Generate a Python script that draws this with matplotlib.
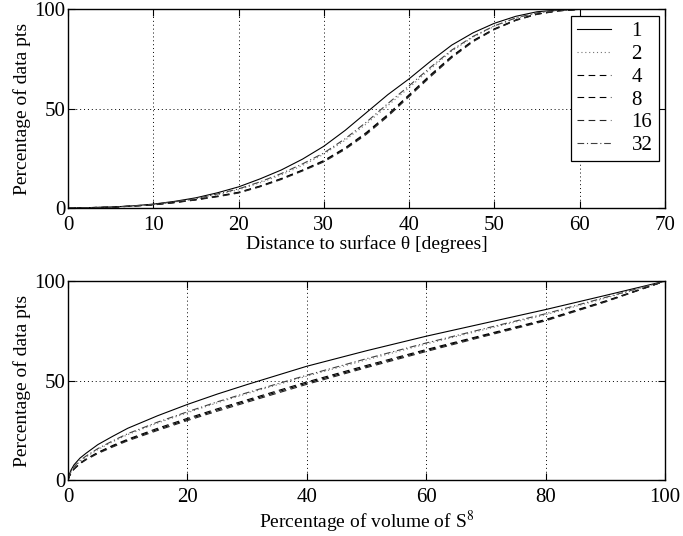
import matplotlib
matplotlib.use("Agg")
import matplotlib.pyplot as plt
import numpy as np

plt.rcParams['font.family'] = ['Liberation Serif', 'DejaVu Serif']
plt.rcParams['mathtext.fontset'] = 'stix'

labels = ['1', '2', '4', '8', '16', '32']
dashes = [(None), (1, 2.5), (6, 4), (6, 4), (6, 4), (6, 2.5, 1, 2.5)]
colors = ['black', '0.45', 'black', 'black', '0.15', '0.25']

# top panel: distance to surface (degrees) vs cumulative percentage
theta = [0, 2.5, 5, 7.5, 10, 12.5, 15, 17.5, 20, 22.5, 25, 27.5, 30, 32.5,
         35, 37.5, 40, 42.5, 45, 47.5, 50, 52.5, 55, 57.5, 60, 70]
top_vals = {
    '1':  [0, 0.05, 0.3, 0.9, 1.8, 3.2, 5.0, 7.5, 10.5, 14.5, 19.0, 24.5, 31.0, 39.0,
           48.0, 57.0, 65.0, 73.8, 82.0, 88.2, 93.0, 96.5, 98.8, 99.7, 100, 100],
    '2':  [0, 0.05, 0.3, 0.8, 1.6, 2.9, 4.4, 6.5, 9.0, 12.5, 16.5, 21.3, 27.0, 34.0,
           42.3, 51.5, 60.5, 70.0, 79.0, 86.0, 91.5, 95.5, 98.2, 99.5, 100, 100],
    '4':  [0, 0.05, 0.25, 0.8, 1.5, 2.7, 4.1, 5.8, 7.8, 10.9, 14.7, 19.0, 23.8, 30.2,
           38.0, 47.0, 57.0, 67.0, 76.4, 84.3, 90.2, 94.7, 97.7, 99.3, 100, 100],
    '8':  [0, 0.05, 0.25, 0.8, 1.5, 2.6, 4.0, 5.7, 7.6, 10.7, 14.5, 18.8, 23.5, 29.8,
           37.5, 46.5, 56.5, 66.5, 76.0, 84.0, 90.0, 94.5, 97.6, 99.3, 100, 100],
    '16': [0, 0.05, 0.25, 0.75, 1.4, 2.5, 3.9, 5.5, 7.4, 10.5, 14.2, 18.5, 23.1, 29.4,
           37.0, 46.0, 56.0, 66.0, 75.6, 83.7, 89.8, 94.4, 97.5, 99.2, 100, 100],
    '32': [0, 0.05, 0.3, 0.85, 1.7, 3.0, 4.6, 6.9, 9.5, 13.0, 17.2, 22.1, 27.6, 34.8,
           43.2, 52.5, 61.5, 70.8, 79.5, 86.4, 91.7, 95.7, 98.3, 99.5, 100, 100],
}

# bottom panel: percentage of volume of S^8 vs cumulative percentage
vol = [0, 0.25, 0.5, 1, 2, 3, 5, 7.5, 10, 15, 20, 25, 30, 40, 50, 60, 70, 80, 90, 100]
bot_vals = {
    '1':  [0, 3.0, 5.0, 7.6, 11.0, 13.4, 17.8, 22.0, 26.0, 32.3, 38.0, 43.2, 48.0, 57.2,
           65.0, 72.3, 79.0, 85.7, 92.8, 100],
    '2':  [0, 2.4, 4.0, 6.3, 9.4, 11.6, 15.3, 19.2, 22.8, 28.6, 33.8, 38.8, 43.4, 52.2,
           60.4, 68.4, 75.8, 83.1, 91.4, 100],
    '4':  [0, 2.1, 3.5, 5.6, 8.5, 10.5, 13.9, 17.4, 20.5, 26.0, 31.0, 35.8, 40.3, 49.3,
           57.6, 65.6, 73.2, 80.7, 90.0, 100],
    '8':  [0, 2.0, 3.4, 5.5, 8.3, 10.3, 13.6, 17.0, 20.1, 25.4, 30.4, 35.2, 39.7, 48.7,
           57.0, 65.1, 72.8, 80.3, 89.7, 100],
    '16': [0, 2.0, 3.3, 5.4, 8.1, 10.1, 13.3, 16.6, 19.7, 24.9, 29.9, 34.6, 39.1, 48.1,
           56.5, 64.6, 72.4, 80.0, 89.5, 100],
    '32': [0, 2.5, 4.2, 6.6, 9.8, 12.0, 15.8, 19.7, 23.3, 29.1, 34.3, 39.3, 43.9, 52.7,
           61.0, 68.9, 76.3, 83.6, 91.8, 100],
}

fig = plt.figure(figsize=(6.83, 5.36), dpi=100)
ax1 = fig.add_axes([0.0996, 0.6125, 0.874, 0.370])
ax2 = fig.add_axes([0.0996, 0.1045, 0.874, 0.371])

for lab, d, c in zip(labels, dashes, colors):
    kw = dict(color=c, lw=0.8, label=lab)
    if d is None:
        kw['linestyle'] = '-'
    else:
        kw['linestyle'] = (0, d)
    ax1.plot(theta, top_vals[lab], **kw)
    ax2.plot(vol, bot_vals[lab], **kw)

for ax in (ax1, ax2):
    ax.set_ylim(0, 100)
    ax.set_yticks([0, 50, 100])
    ax.grid(True, linestyle=(0, (1, 3)), color='black', lw=0.7)
    ax.tick_params(direction='in', top=True, right=True, labelsize=15, length=5)
    ax.tick_params(axis='y', pad=2)
    ax.tick_params(axis='x', pad=6)
    for s in ax.spines.values():
        s.set_linewidth(1.0)
    ax.set_ylabel('Percentage of data pts', fontsize=14, labelpad=2)

ax1.set_xlim(0, 70)
ax1.set_xticks(range(0, 71, 10))
ax1.set_xlabel('Distance to surface θ [degrees]', fontsize=14, labelpad=0)
ax2.set_xlim(0, 100)
ax2.set_xticks(range(0, 101, 20))
ax2.set_xlabel('Percentage of volume of S$^8$', fontsize=14, labelpad=1)

leg = ax1.legend(loc='upper right', fontsize=15, fancybox=False, framealpha=1,
                 edgecolor='black', handlelength=1.6, borderaxespad=0.3,
                 labelspacing=0.15, handletextpad=1.0, borderpad=0.3)
leg.get_frame().set_linewidth(0.9)

fig.savefig('out.png', dpi=100)
